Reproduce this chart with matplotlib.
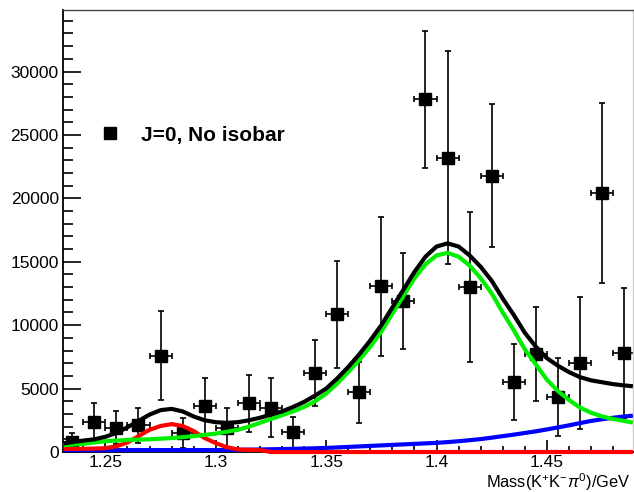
import matplotlib
matplotlib.use("Agg")
import matplotlib.pyplot as plt
from matplotlib.lines import Line2D
from matplotlib.ticker import MultipleLocator, FuncFormatter

plt.rcParams["font.family"] = ["Liberation Sans", "DejaVu Sans"]
plt.rcParams["mathtext.fontset"] = "custom"
plt.rcParams["mathtext.rm"] = "Liberation Sans"
plt.rcParams["mathtext.it"] = "Liberation Sans:italic"

# binned data (bin width 0.01 GeV)
mass = [1.235, 1.245, 1.255, 1.265, 1.275, 1.285, 1.295, 1.305, 1.315, 1.325,
        1.335, 1.345, 1.355, 1.365, 1.375, 1.385, 1.395, 1.405, 1.415, 1.425,
        1.435, 1.445, 1.455, 1.465, 1.475, 1.485]
counts = [800, 2400, 1900, 2100, 7600, 1500, 3600, 1900, 3850, 3500,
          1550, 6200, 10850, 4700, 13050, 11900, 27800, 23200, 13000, 21800,
          5500, 7700, 4350, 7000, 20400, 7800]
count_err = [700, 1500, 1300, 1400, 3500, 1200, 2200, 1550, 2250, 2300,
             1200, 2600, 4200, 2400, 5500, 3800, 5400, 8400, 5900, 5600,
             3000, 3700, 3100, 5200, 7100, 5100]
half_bin = 0.005

# fit curves
fit_mass = [1.232, 1.235, 1.24, 1.245, 1.25, 1.255, 1.26, 1.265, 1.27, 1.275,
            1.28, 1.285, 1.29, 1.295, 1.30, 1.305, 1.31, 1.315, 1.32, 1.325,
            1.33, 1.335, 1.34, 1.345, 1.35, 1.355, 1.36, 1.365, 1.37, 1.375,
            1.38, 1.385, 1.39, 1.395, 1.40, 1.405, 1.41, 1.415, 1.42, 1.425,
            1.43, 1.435, 1.44, 1.445, 1.45, 1.455, 1.46, 1.465, 1.47, 1.475,
            1.48, 1.485, 1.488]
fit_total = [700, 780, 900, 1000, 1200, 1500, 1950, 2450, 2950, 3300,
             3400, 3200, 2800, 2500, 2350, 2300, 2350, 2500, 2700, 2950,
             3200, 3550, 3950, 4450, 5000, 5800, 6700, 7700, 8800, 10000,
             11400, 12800, 14200, 15400, 16200, 16450, 16200, 15500, 14600, 13500,
             12100, 10800, 9400, 8300, 7400, 6800, 6300, 5900, 5650, 5500,
             5350, 5250, 5200]
fit_main = [550, 580, 650, 750, 850, 900, 950, 980, 1000, 1050,
            1100, 1170, 1250, 1350, 1450, 1600, 1750, 2000, 2300, 2600,
            2900, 3200, 3550, 4000, 4600, 5400, 6300, 7250, 8300, 9500,
            10900, 12300, 13700, 14800, 15500, 15700, 15400, 14700, 13700, 12500,
            11000, 9600, 8100, 6900, 5700, 4800, 4100, 3500, 3100, 2800,
            2600, 2450, 2350]
fit_small = [250, 250, 250, 270, 300, 450, 750, 1250, 1750, 2050,
             2200, 2050, 1650, 1100, 700, 380, 200, 170, 150, 0,
             0, 0, 0, 0, 0, 0, 0, 0, 0, 0,
             0, 0, 0, 0, 0, 0, 0, 0, 0, 0,
             0, 0, 0, 0, 0, 0, 0, 0, 0, 0,
             0, 0, 0]
fit_bkg = [150, 150, 150, 150, 150, 150, 150, 150, 150, 150,
           150, 150, 150, 150, 150, 160, 170, 185, 200, 215,
           230, 250, 270, 295, 320, 360, 400, 440, 480, 520,
           560, 600, 640, 680, 720, 780, 850, 930, 1020, 1130,
           1250, 1370, 1500, 1630, 1780, 1940, 2100, 2280, 2450, 2580,
           2700, 2800, 2850]

fig = plt.figure(figsize=(6.34, 4.92), dpi=100)
ax = fig.add_axes([63 / 634, 40 / 492, 570 / 634, 442 / 492])

ax.errorbar(mass, counts, xerr=half_bin, yerr=count_err, fmt="s", color="black",
            markersize=8.5, elinewidth=1.2, capsize=2.5, capthick=1.2, zorder=2)

lw = 3.0
ax.plot(fit_mass, fit_bkg, color="#0000ff", lw=lw, zorder=3, clip_on=False)
ax.plot(fit_mass, fit_small, color="#ff0000", lw=lw, zorder=3, clip_on=False)
ax.plot(fit_mass, fit_main, color="#00ee00", lw=lw, zorder=4)
ax.plot(fit_mass, fit_total, color="black", lw=lw, zorder=5)

ax.set_xlim(1.2308, 1.489)
ax.set_ylim(0, 34850)

ax.xaxis.set_major_locator(MultipleLocator(0.05))
ax.xaxis.set_minor_locator(MultipleLocator(0.01))
ax.xaxis.set_major_formatter(FuncFormatter(lambda v, p: f"{v:g}"))
ax.yaxis.set_major_locator(MultipleLocator(5000))
ax.yaxis.set_minor_locator(MultipleLocator(1000))

ax.tick_params(axis="both", which="both", direction="in", labelsize=12.5,
               top=False, right=False)
ax.tick_params(axis="y", which="major", length=13, width=1.2, pad=3)
ax.tick_params(axis="y", which="minor", length=7, width=1.2)
ax.tick_params(axis="x", which="major", length=8.5, width=1.2, pad=2.5)
ax.tick_params(axis="x", which="minor", length=4.5, width=1.2)

for side in ["left", "bottom"]:
    ax.spines[side].set_linewidth(1.3)
ax.spines["top"].set_color("#444444")
ax.spines["top"].set_linewidth(1.0)
ax.spines["right"].set_color("#cccccc")
ax.spines["right"].set_linewidth(1.0)

ax.set_xlabel(r"Mass(K$^{+}$K$^{-}$$\pi^{0}$)/GeV", fontsize=11.8,
              ha="right", va="baseline")
ax.xaxis.set_label_coords(0.995, -0.0825)

handle = Line2D([], [], marker="s", color="black", linestyle="none", markersize=8.5)
ax.legend([handle], ["J=0, No isobar"], loc="center left",
          bbox_to_anchor=(0.0667, 0.717), frameon=False, borderpad=0,
          borderaxespad=0, handlelength=0.9, handletextpad=1.0,
          prop={"weight": "bold", "size": 15})

fig.savefig("out.png", dpi=100)
